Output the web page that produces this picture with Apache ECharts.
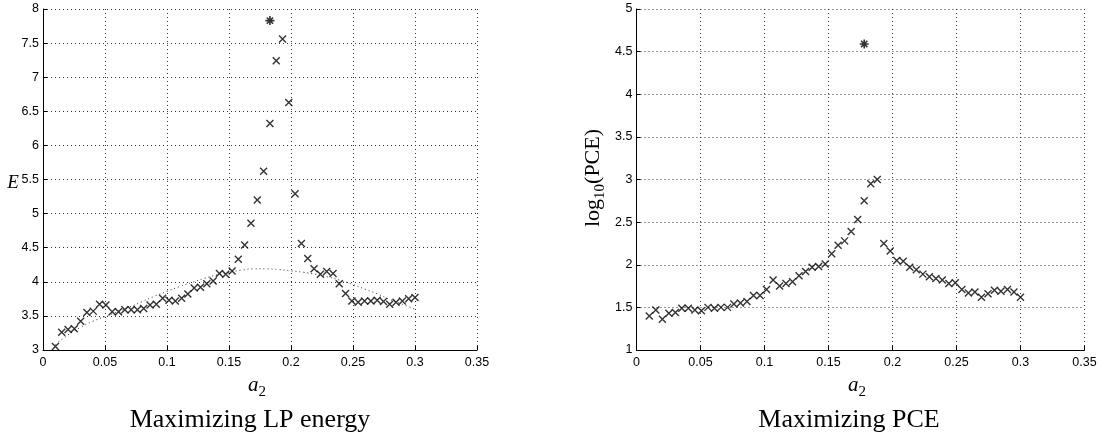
<!DOCTYPE html>
<html>
<head>
<meta charset="utf-8">
<script src="https://cdn.jsdelivr.net/npm/echarts@6/dist/echarts.min.js"></script>
<style>
html,body{margin:0;padding:0;background:#fff;}
#chart{width:1102px;height:435px;}
</style>
</head>
<body>
<div id="chart"></div>
<script>
// ---- data ----
const a2 = [0.0100,0.0151,0.0202,0.0253,0.0304,0.0354,0.0405,0.0456,0.0507,0.0558,
  0.0609,0.0660,0.0711,0.0761,0.0812,0.0863,0.0914,0.0965,0.1016,0.1067,
  0.1118,0.1168,0.1219,0.1270,0.1321,0.1372,0.1423,0.1474,0.1525,0.1575,
  0.1626,0.1677,0.1728,0.1779,0.1830,0.1881,0.1932,0.1982,0.2033,0.2084,
  0.2135,0.2186,0.2237,0.2288,0.2339,0.2389,0.2440,0.2491,0.2542,0.2593,
  0.2644,0.2695,0.2746,0.2796,0.2847,0.2898,0.2949,0.3000];
const energy = [3.05,3.26,3.30,3.31,3.42,3.55,3.57,3.67,3.66,3.56,
  3.56,3.59,3.59,3.59,3.61,3.66,3.67,3.76,3.73,3.72,
  3.76,3.82,3.91,3.92,3.97,4.01,4.12,4.11,4.16,4.33,
  4.54,4.86,5.20,5.62,6.32,7.24,7.56,6.63,5.29,4.56,
  4.34,4.19,4.11,4.15,4.12,3.97,3.83,3.72,3.70,3.72,
  3.72,3.73,3.71,3.67,3.70,3.72,3.75,3.77];
const logPCE = [1.40,1.47,1.36,1.43,1.44,1.49,1.49,1.47,1.46,1.50,
  1.49,1.50,1.50,1.54,1.55,1.57,1.64,1.64,1.71,1.82,
  1.75,1.78,1.80,1.87,1.92,1.97,1.98,2.01,2.13,2.23,
  2.28,2.39,2.53,2.75,2.95,3.00,2.25,2.16,2.05,2.04,
  1.97,1.94,1.89,1.86,1.84,1.82,1.78,1.79,1.71,1.67,
  1.68,1.62,1.66,1.70,1.69,1.71,1.68,1.62];
const fitX = [0.01,0.02,0.03,0.04,0.05,0.06,0.07,0.08,0.09,0.10,
  0.11,0.12,0.13,0.14,0.15,0.16,0.17,0.18,0.19,0.20,
  0.21,0.22,0.23,0.24,0.25,0.26,0.27,0.28,0.29,0.30];
const fitE = [3.08,3.22,3.33,3.42,3.49,3.56,3.63,3.71,3.79,3.86,
  3.93,3.99,4.05,4.10,4.14,4.17,4.19,4.19,4.18,4.16,
  4.14,4.11,4.07,4.02,3.96,3.89,3.82,3.74,3.67,3.60];
const starE = [0.1830, 7.83];
const starPCE = [0.1779, 4.59];
const xTicks = [0, 0.35, 0.05];
const yTicksE = [3, 8, 0.5];
const yTicksP = [1, 5, 0.5];
const titles = ['Maximizing LP energy', 'Maximizing PCE'];

// ---- chart ----
const chart = echarts.init(document.getElementById('chart'), null, {renderer: 'canvas'});
const pair = (xs, ys) => xs.map((x, i) => [x, ys[i]]);
const crossPath = 'path://M0,0L10,10M10,0L0,10';
const starPath = 'path://M5,0L5,10M0,5L10,5M1.5,1.5L8.5,8.5M8.5,1.5L1.5,8.5';
const tickFont = {fontFamily: 'Liberation Sans, Arial, sans-serif', fontSize: 12.5, color: '#000'};
const grid = {type: [1, 3], color: '#333', width: 1};

function xAxis(gi) {
  return {
    type: 'value', gridIndex: gi, min: xTicks[0], max: xTicks[1], interval: xTicks[2],
    axisLine: {show: true, onZero: false, lineStyle: {color: '#000', width: 1}},
    axisTick: {show: true, inside: true, length: 4, lineStyle: {color: '#000'}},
    axisLabel: Object.assign({margin: 6, formatter: v => String(+v.toFixed(2))}, tickFont),
    splitLine: {show: true, lineStyle: grid}
  };
}
function yAxis(gi, t) {
  return {
    type: 'value', gridIndex: gi, min: t[0], max: t[1], interval: t[2],
    axisLine: {show: true, onZero: false, lineStyle: {color: '#000', width: 1}},
    axisTick: {show: true, inside: true, length: 4, lineStyle: {color: '#000'}},
    axisLabel: Object.assign({margin: 4, formatter: v => String(+v.toFixed(2))}, tickFont),
    splitLine: {show: true, lineStyle: grid}
  };
}
const serif = 'Liberation Serif, Times New Roman, serif';
const subRich = {
  a: {fontFamily: serif, fontStyle: 'italic', fontSize: 21, lineHeight: 30, color: '#000'},
  s: {fontFamily: serif, fontSize: 15, lineHeight: 15, verticalAlign: 'bottom', color: '#000'},
  n: {fontFamily: serif, fontSize: 22, lineHeight: 30, color: '#000'}
};

const option = {
  animation: false,
  backgroundColor: '#fff',
  grid: [
    {left: 43, top: 9, width: 434, height: 341},
    {left: 636.5, top: 9, width: 448, height: 341}
  ],
  xAxis: [xAxis(0), xAxis(1)],
  yAxis: [yAxis(0, yTicksE), yAxis(1, yTicksP)],
  series: [
    {type: 'line', xAxisIndex: 0, yAxisIndex: 0, data: pair(fitX, fitE), smooth: true,
      showSymbol: false, lineStyle: {type: [1, 3], color: '#333', width: 1}, z: 2},
    {type: 'scatter', xAxisIndex: 0, yAxisIndex: 0, data: pair(a2, energy), symbol: crossPath,
      symbolSize: 7, itemStyle: {color: 'transparent', borderColor: '#000', borderWidth: 1.4}, z: 3},
    {type: 'scatter', xAxisIndex: 0, yAxisIndex: 0, data: [starE], symbol: starPath,
      symbolSize: 9, itemStyle: {color: 'transparent', borderColor: '#000', borderWidth: 1.6}, z: 3},
    {type: 'scatter', xAxisIndex: 1, yAxisIndex: 1, data: pair(a2, logPCE), symbol: crossPath,
      symbolSize: 7, itemStyle: {color: 'transparent', borderColor: '#000', borderWidth: 1.4}, z: 3},
    {type: 'scatter', xAxisIndex: 1, yAxisIndex: 1, data: [starPCE], symbol: starPath,
      symbolSize: 9, itemStyle: {color: 'transparent', borderColor: '#000', borderWidth: 1.6}, z: 3}
  ],
  graphic: [
    {type: 'text', x: 13, y: 183, style: {text: 'E', font: 'italic 19px ' + serif, fill: '#000', align: 'center', verticalAlign: 'middle'}},
    {type: 'text', x: 257, y: 385, style: {text: '{a|a}{s|2}', rich: subRich, align: 'center', verticalAlign: 'middle'}},
    {type: 'text', x: 857, y: 385, style: {text: '{a|a}{s|2}', rich: subRich, align: 'center', verticalAlign: 'middle'}},
    {type: 'text', x: 593, y: 178, rotation: Math.PI / 2,
      style: {text: '{n|log}{s|10}{n|(PCE)}', rich: subRich, align: 'center', verticalAlign: 'middle'}},
    {type: 'text', x: 250, y: 420, style: {text: titles[0], font: '26px ' + serif, fill: '#000', align: 'center', verticalAlign: 'middle'}},
    {type: 'text', x: 849, y: 420, style: {text: titles[1], font: '26px ' + serif, fill: '#000', align: 'center', verticalAlign: 'middle'}}
  ]
};
chart.setOption(option);
</script>
</body>
</html>
